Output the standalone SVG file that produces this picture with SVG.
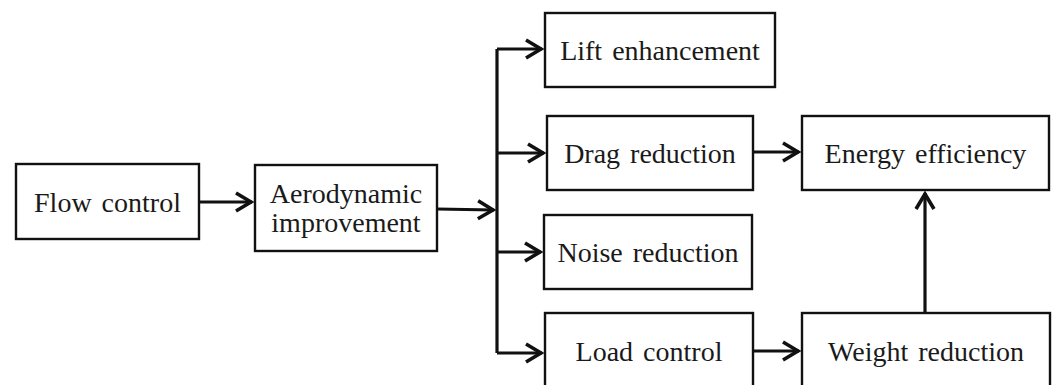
<svg xmlns="http://www.w3.org/2000/svg" width="1057" height="385" viewBox="0 0 1057 385">
<style>
.box{fill:#fff;stroke:#111;stroke-width:2.4}
.t{font-family:"Liberation Serif","Times New Roman",serif;font-size:28px;fill:#1a1a1a;text-anchor:middle;word-spacing:3px}
.c{fill:none;stroke:#111;stroke-width:3.2}
</style>
<defs>
<marker id="ah" markerUnits="userSpaceOnUse" markerWidth="24" markerHeight="24" refX="1" refY="0" viewBox="-20 -12 24 24" orient="auto" overflow="visible">
<path d="M-15,-9 L0,0 L-15,9" fill="none" stroke="#111" stroke-width="3.6"/>
</marker>
</defs>
<rect width="1057" height="385" fill="#fff"/>
<g id="flow-control"><rect class="box" x="16" y="164" width="183" height="75"/><text class="t" x="107.5" y="212">Flow control</text></g>
<g id="aerodynamic-improvement"><rect class="box" x="255" y="165" width="182" height="86"/><text class="t" x="346" y="203">Aerodynamic</text><text class="t" x="346" y="232">improvement</text></g>
<g id="lift-enhancement"><rect class="box" x="545" y="13" width="230" height="74"/><text class="t" x="660" y="60">Lift enhancement</text></g>
<g id="drag-reduction"><rect class="box" x="547" y="116" width="206" height="74"/><text class="t" x="650" y="163">Drag reduction</text></g>
<g id="noise-reduction"><rect class="box" x="544" y="215" width="208" height="74"/><text class="t" x="648" y="262">Noise reduction</text></g>
<g id="load-control"><rect class="box" x="545" y="313" width="208" height="80"/><text class="t" x="649" y="361">Load control</text></g>
<g id="energy-efficiency"><rect class="box" x="802" y="116" width="247" height="74"/><text class="t" x="925.5" y="163">Energy efficiency</text></g>
<g id="weight-reduction"><rect class="box" x="802" y="313" width="248" height="80"/><text class="t" x="926" y="361">Weight reduction</text></g>
<g id="connectors">
<path class="c" d="M199,202 H252" marker-end="url(#ah)"/>
<path class="c" d="M437,209 L494,210" marker-end="url(#ah)"/>
<path class="c" d="M497,49 V353"/>
<path class="c" d="M497,49 H542" marker-end="url(#ah)"/>
<path class="c" d="M497,153 H544" marker-end="url(#ah)"/>
<path class="c" d="M497,252 H541" marker-end="url(#ah)"/>
<path class="c" d="M497,353 H542" marker-end="url(#ah)"/>
<path class="c" d="M753,152 H799" marker-end="url(#ah)"/>
<path class="c" d="M753,351 H799" marker-end="url(#ah)"/>
<path class="c" d="M925,313 V193" marker-end="url(#ah)"/>
</g>
</svg>
